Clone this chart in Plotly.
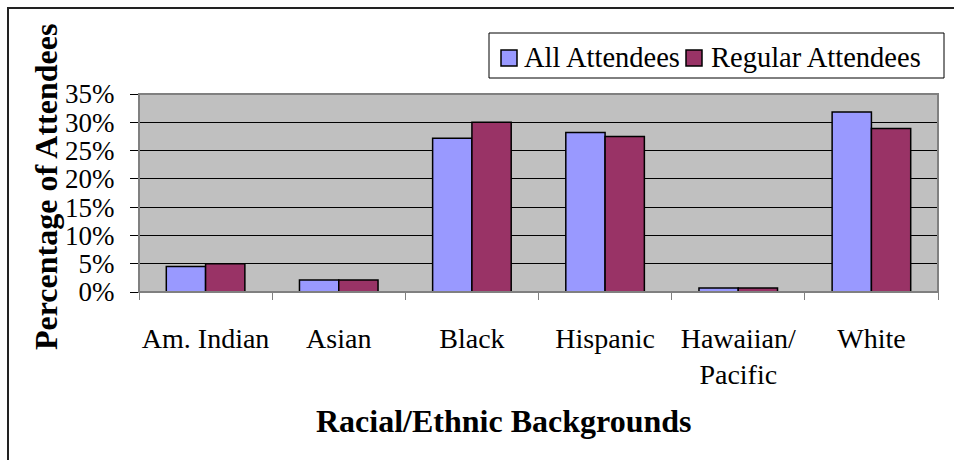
import plotly.graph_objects as go

# Racial/ethnic background of program attendees (share of attendees)
categories = ["Am. Indian", "Asian", "Black", "Hispanic", "Hawaiian/Pacific", "White"]
tick_labels = ["Am. Indian", "Asian", "Black", "Hispanic", "Hawaiian/<br>Pacific", "White"]
series_names = ["All Attendees", "Regular Attendees"]
all_attendees = [4.5, 2.1, 27.2, 28.2, 0.7, 31.8]
regular_attendees = [5.0, 2.1, 30.0, 27.5, 0.7, 28.9]
y_ticks = [0, 5, 10, 15, 20, 25, 30, 35]
y_tick_text = [f"{v}%" for v in y_ticks]

FONT = "Liberation Serif, Times New Roman, serif"
COLORS = ["#9999FF", "#993366"]

# plot-area geometry in pixels (used to express paper coordinates)
W, H = 954, 460
L, R, T, B = 139, 16, 94, 168
PW, PH = W - L - R, H - T - B


def px(x):
    return (x - L) / PW


def py(y):
    return (H - B - y) / PH


fig = go.Figure()
for name, vals, col in zip(series_names, [all_attendees, regular_attendees], COLORS):
    fig.add_trace(go.Bar(
        x=categories, y=vals, name=name,
        marker=dict(color=col, line=dict(color="black", width=1.5)),
    ))

# boxed legend along the top right
legend_shapes = [
    dict(type="rect", xref="paper", yref="paper",
         x0=px(489), x1=px(944), y0=py(78), y1=py(33),
         line=dict(color="black", width=1), fillcolor="white"),
]
legend_texts = []
marker_x = [501, 686]
text_x = [522, 709]
for mx, tx, name, col in zip(marker_x, text_x, series_names, COLORS):
    legend_shapes.append(dict(
        type="rect", xref="paper", yref="paper",
        x0=px(mx), x1=px(mx + 16), y0=py(66), y1=py(50),
        line=dict(color="black", width=1.5), fillcolor=col))
    legend_texts.append(dict(
        text=name, xref="paper", yref="paper", x=px(tx), y=py(57),
        xanchor="left", yanchor="middle", showarrow=False,
        font=dict(family=FONT, size=28.5)))

fig.update_layout(
    width=W, height=H,
    margin=dict(l=L, r=R, t=T, b=B),
    paper_bgcolor="white",
    plot_bgcolor="#C0C0C0",
    font=dict(family=FONT, size=27, color="black"),
    barmode="group", bargap=0.41, bargroupgap=0,
    showlegend=False,
    xaxis=dict(
        tickmode="array", tickvals=categories, ticktext=tick_labels,
        tickson="boundaries", ticks="outside", ticklen=7, tickcolor="#808080",
        showline=True, linecolor="black", linewidth=1,
        showgrid=False, ticklabelstandoff=21, tickangle=0,
        tickfont=dict(family=FONT, size=28),
    ),
    yaxis=dict(
        range=[0, 35], tickmode="array", tickvals=y_ticks, ticktext=y_tick_text,
        ticks="outside", ticklen=8, tickcolor="black",
        showgrid=True, gridcolor="black", gridwidth=1,
        showline=True, linecolor="#808080", linewidth=1,
        zeroline=False, ticklabelstandoff=10,
        tickfont=dict(family=FONT, size=27),
    ),
    annotations=[
        dict(text="<b>Percentage of Attendees</b>", textangle=-90,
             xref="paper", yref="paper", x=px(46), y=py(187),
             xanchor="center", yanchor="middle", showarrow=False,
             font=dict(family=FONT, size=32)),
        dict(text="<b>Racial/Ethnic Backgrounds</b>",
             xref="paper", yref="paper", x=px(503), y=py(421),
             xanchor="center", yanchor="middle", showarrow=False,
             font=dict(family=FONT, size=32)),
    ] + legend_texts,
    shapes=[
        # plot area frame
        dict(type="rect", xref="x domain", yref="y domain", x0=0, x1=1, y0=0, y1=1,
             line=dict(color="#808080", width=2), layer="above"),
        # chart area frame
        dict(type="rect", xref="paper", yref="paper",
             x0=px(8), x1=px(1000), y0=py(500), y1=py(8),
             line=dict(color="#222222", width=2)),
    ] + legend_shapes,
)

fig.write_html("out.html")
